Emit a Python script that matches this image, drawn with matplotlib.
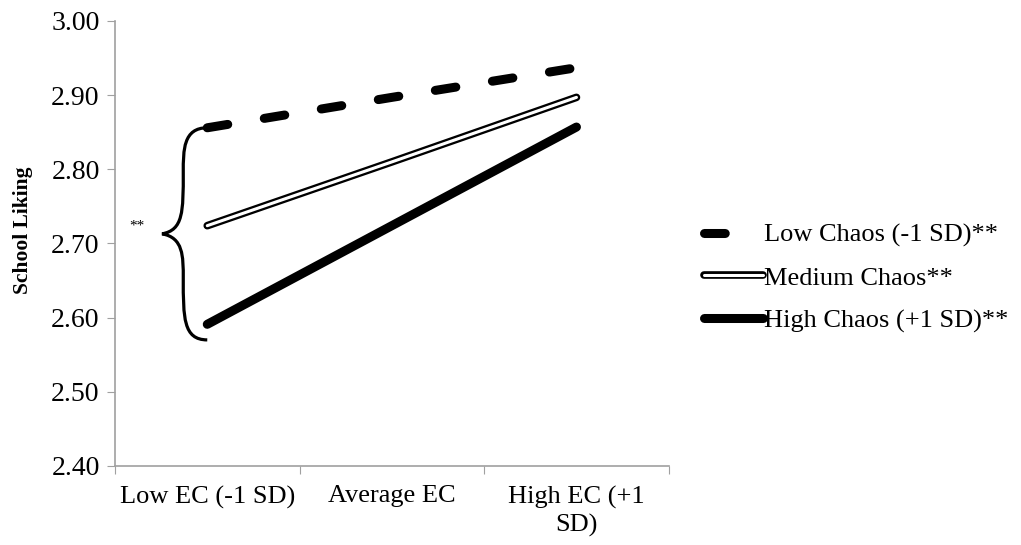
import matplotlib.pyplot as plt
import matplotlib.patheffects as pe
from matplotlib.path import Path
from matplotlib.patches import PathPatch
from matplotlib.lines import Line2D

plt.rcParams['font.family'] = ['Liberation Serif', 'DejaVu Serif']

# data
ec_levels = ['Low EC (-1 SD)', 'Average EC', 'High EC (+1\nSD)']
low_chaos = [2.856, 2.897, 2.937]
medium_chaos = [2.724, 2.810, 2.897]
high_chaos = [2.591, 2.724, 2.857]
y_ticks = [2.40, 2.50, 2.60, 2.70, 2.80, 2.90, 3.00]
series_names = ['Low Chaos (-1 SD)**', 'Medium Chaos**', 'High Chaos (+1 SD)**']

x = list(range(len(ec_levels)))

fig = plt.figure(figsize=(10.21, 5.45), dpi=100)
ax = fig.add_axes([0.1126, 0.145, 0.5424, 0.8165])

medium_fx = [pe.Stroke(linewidth=5.5, foreground='black'), pe.Normal()]

ax.plot(x, low_chaos, color='black', lw=6.5, dashes=(2.3, 4.1),
        dash_capstyle='round', solid_capstyle='round')
ax.plot(x, medium_chaos, color='white', lw=2.2, solid_capstyle='round',
        path_effects=medium_fx)
ax.plot(x, high_chaos, color='black', lw=6.5, solid_capstyle='round')

# curly brace joining the three lines at Low EC
top, bot = low_chaos[0], 2.570
mid = (top + bot) / 2
xe, xv, xc = 0.0, -0.13, -0.245
verts = [
    (xe, top), (xv, top), (xv, top - 0.03), (xv, top - 0.06),
    (xv, mid + 0.03), (xv, mid + 0.005), (xc, mid),
    (xv, mid - 0.005), (xv, mid - 0.03), (xv, mid - 0.06),
    (xv, bot + 0.03), (xv, bot), (xe, bot),
]
codes = [Path.MOVETO] + [Path.CURVE4] * 12
ax.add_patch(PathPatch(Path(verts, codes), fill=False, lw=2.3,
                       edgecolor='black', clip_on=False))
ax.text(-0.38, mid + 0.01, '**', fontsize=11, ha='center', va='center')

ax.set_xlim(-0.5, 2.5)
ax.set_ylim(2.40, 3.00)
ax.set_yticks(y_ticks)
ax.set_yticklabels([f'{v:.2f}' for v in y_ticks], fontsize=20)
ax.set_xticks([-0.5, 0.5, 1.5, 2.5])
ax.set_xticklabels([])
ax.set_xticks(x, minor=True)
ax.set_xticklabels(ec_levels, minor=True, fontsize=19, linespacing=1.3)
ax.tick_params(axis='x', which='minor', length=0, pad=14)
ax.tick_params(axis='x', which='major', length=6, color='#a0a0a0')
ax.tick_params(axis='y', length=6, color='#a0a0a0', pad=5)

for s in ['top', 'right']:
    ax.spines[s].set_visible(False)
for s in ['left', 'bottom']:
    ax.spines[s].set_color('#a0a0a0')
    ax.spines[s].set_linewidth(1.2)

ax.set_ylabel('School Liking', fontsize=15.5, fontweight='bold')
ax.yaxis.set_label_coords(-0.148, 0.53)

# legend handles: the dashed one shows a single dash, as in the original
handles = [
    Line2D([], [], color='black', lw=6.5, dashes=(2.3, 20), dash_capstyle='round'),
    Line2D([], [], color='white', lw=2.2, solid_capstyle='round', path_effects=medium_fx),
    Line2D([], [], color='black', lw=6.5, solid_capstyle='round'),
]
ax.legend(handles, series_names, loc='center left', bbox_to_anchor=(0.666, 0.49),
          bbox_transform=fig.transFigure, frameon=False, fontsize=19,
          handlelength=2.25, handletextpad=0.05, labelspacing=0.72)

fig.savefig('out.png', dpi=100)
